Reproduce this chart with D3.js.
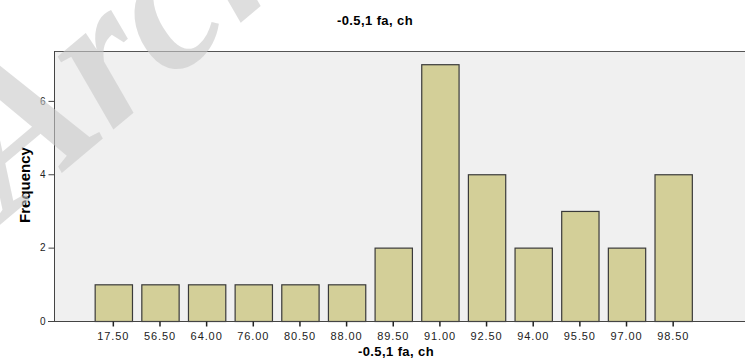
<!DOCTYPE html>
<html>
<head>
<meta charset="utf-8">
<script src="https://cdn.jsdelivr.net/npm/d3@7"></script>
<style>
  body { margin: 0; background: #fff; }
  svg { display: block; font-family: Arial, "Liberation Sans", sans-serif; }
</style>
</head>
<body>
<div id="chart"></div>
<script>
// data
const categories = ["17.50", "56.50", "64.00", "76.00", "80.50", "88.00", "89.50",
  "91.00", "92.50", "94.00", "95.50", "97.00", "98.50"];
const frequency = [1, 1, 1, 1, 1, 1, 2, 7, 4, 2, 3, 2, 4];
const yTicks = [0, 2, 4, 6];
const chartTitle = "-0.5,1 fa, ch";
const yTitle = "Frequency";

const width = 745, height = 358;
// plot area edges
const plotLeft = 54, plotRight = 745, plotTop = 51, plotBottom = 321;

const svg = d3.select("#chart").append("svg")
  .attr("width", width)
  .attr("height", height);

// set the ranges
const x = d3.scaleBand()
  .domain(categories)
  .range([90, 696.5])
  .paddingInner(0.2)
  .paddingOuter(0.1);
const y = d3.scaleLinear().domain([0, 7.36]).range([plotBottom, plotTop]);

// plot background + top frame line
svg.append("rect")
  .attr("x", plotLeft).attr("y", plotTop)
  .attr("width", plotRight - plotLeft).attr("height", plotBottom - plotTop)
  .attr("fill", "#f0f0f0");
svg.append("line")
  .attr("x1", plotLeft).attr("x2", plotRight)
  .attr("y1", plotTop + 0.5).attr("y2", plotTop + 0.5)
  .attr("stroke", "#555").attr("stroke-width", 1.2);

// bars
svg.append("g").selectAll("rect")
  .data(frequency)
  .enter().append("rect")
  .attr("x", (d, i) => x(categories[i]) + 0.5)
  .attr("y", d => y(d) + 0.5)
  .attr("width", x.bandwidth())
  .attr("height", d => plotBottom - y(d))
  .attr("fill", "#d3cf98")
  .attr("stroke", "#3a3a3a")
  .attr("stroke-width", 1.2);

// y axis
const yAxis = svg.append("g")
  .attr("transform", "translate(" + (plotLeft + 0.5) + ",0)")
  .call(d3.axisLeft(y).tickValues(yTicks).tickSize(6).tickPadding(3).tickFormat(d3.format("d")));
yAxis.select(".domain").attr("stroke", "#444").attr("d", "M0," + plotTop + "V" + plotBottom);
yAxis.selectAll(".tick line").attr("stroke", "#444");
yAxis.selectAll("text").attr("font-size", 10).attr("fill", "#222");

// x axis
const xAxis = svg.append("g")
  .attr("transform", "translate(0," + (plotBottom + 0.5) + ")")
  .call(d3.axisBottom(x).tickSize(5).tickPadding(4));
xAxis.select(".domain").attr("stroke", "#444").attr("d", "M" + (plotLeft - 6) + ",0H" + plotRight);
xAxis.selectAll(".tick line").attr("stroke", "#222").attr("stroke-width", 1.5);
xAxis.selectAll("text")
  .attr("font-size", 11).attr("fill", "#222")
  .attr("letter-spacing", 0.9).attr("dy", "0.85em");

// titles
svg.append("text")
  .attr("x", 375).attr("y", 25)
  .attr("text-anchor", "middle")
  .attr("font-size", 13).attr("font-weight", "bold")
  .attr("letter-spacing", 0.4)
  .text(chartTitle);
svg.append("text")
  .attr("x", 396).attr("y", 356)
  .attr("text-anchor", "middle")
  .attr("font-size", 13).attr("font-weight", "bold")
  .attr("letter-spacing", 0.4)
  .text(chartTitle);
svg.append("text")
  .attr("transform", "translate(30,185) rotate(-90)")
  .attr("text-anchor", "middle")
  .attr("font-family", "'Liberation Sans Narrow', 'Arial Narrow', Arial, sans-serif")
  .attr("font-size", 15).attr("font-weight", "bold")
  .text(yTitle);

// watermark overlay
svg.append("text")
  .attr("transform", "translate(8,218) rotate(-40)")
  .attr("font-family", "'Liberation Serif', 'DejaVu Serif', serif")
  .attr("font-style", "italic")
  .attr("font-weight", "bold")
  .attr("font-size", 200)
  .attr("fill", "#c8c8c8")
  .attr("fill-opacity", 0.6)
  .text("Arch");
</script>
</body>
</html>
